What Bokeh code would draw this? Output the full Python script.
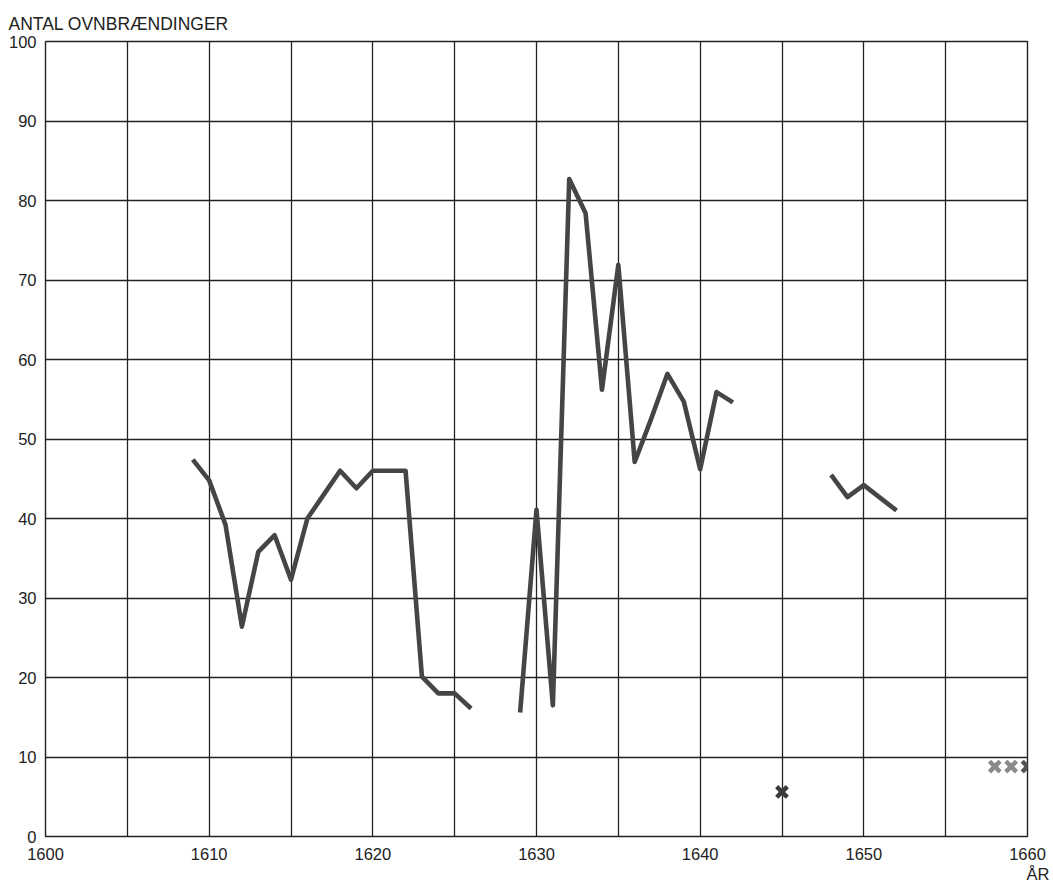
from bokeh.plotting import figure
from bokeh.models import FixedTicker, Range1d, Title
from bokeh.embed import file_html
from bokeh.resources import INLINE

nan = float("nan")

# Årstal og antal ovnbrændinger (aflæst)
years = list(range(1609, 1653))
values = [47.4, 44.8, 39.2, 26.4, 35.8, 37.9, 32.3, 40.0, 43.0, 46.0,
          43.8, 46.0, 46.0, 46.0, 20.1, 18.0, 18.0, 16.1,
          nan, nan,
          15.6, 41.1, 16.5, 82.7, 78.4, 56.2, 71.9, 47.1, 52.5, 58.2,
          54.7, 46.2, 55.9, 54.6,
          nan, nan, nan, nan, nan,
          45.5, 42.7, 44.2, 42.6, 41.0]

mark_years = [1645, 1658, 1659, 1660]
mark_values = [5.6, 8.8, 8.8, 8.8]
mark_colors = ["#3a3a3a", "#8a8a8a", "#8a8a8a", "#555555"]

x_ticks = [1600, 1610, 1620, 1630, 1640, 1650, 1660]
x_grid = list(range(1600, 1661, 5))
y_ticks = list(range(0, 101, 10))

title_text = "ANTAL  OVNBRÆNDINGER"
x_unit = "ÅR"

FONT = "Liberation Sans"
INK = "#222222"

p = figure(frame_width=982, frame_height=795,
           x_range=Range1d(1600, 1660), y_range=Range1d(0, 100),
           output_backend="svg", toolbar_location=None,
           min_border_left=45, min_border_right=26,
           min_border_top=41, min_border_bottom=45)

p.background_fill_color = "white"
p.border_fill_color = "white"
p.outline_line_color = INK
p.outline_line_width = 1.4

p.xgrid.ticker = FixedTicker(ticks=x_grid)
p.ygrid.ticker = FixedTicker(ticks=y_ticks)
for g in (p.xgrid, p.ygrid):
    g.grid_line_color = INK
    g.grid_line_width = 1.3
    g.grid_line_alpha = 1.0

p.xaxis.ticker = FixedTicker(ticks=x_ticks)
p.yaxis.ticker = FixedTicker(ticks=y_ticks)
for ax in (p.xaxis, p.yaxis):
    ax.axis_line_color = None
    ax.major_tick_line_color = None
    ax.minor_tick_line_color = None
    ax.major_tick_out = 0
    ax.major_tick_in = 0
    ax.major_label_text_font = FONT
    ax.major_label_text_font_size = "16.5px"
    ax.major_label_text_color = INK
p.xaxis.major_label_standoff = 11
p.yaxis.major_label_standoff = 9

p.line(years, values, line_color="#454545", line_width=4.6, line_join="round")

p.scatter(mark_years, mark_values, marker="x", size=15, line_width=4.5,
          line_color=mark_colors)

p.title.text = title_text
p.title.align = "left"
p.title.offset = -37
p.title.standoff = 15
p.title.text_font = FONT
p.title.text_font_size = "17.5px"
p.title.text_font_style = "normal"
p.title.text_color = INK

p.add_layout(Title(text=x_unit, align="right", offset=-22, text_font=FONT,
                   text_font_size="16.5px", text_font_style="normal",
                   text_color=INK, standoff=0), "below")

open("out.html", "w").write(file_html(p, INLINE))
